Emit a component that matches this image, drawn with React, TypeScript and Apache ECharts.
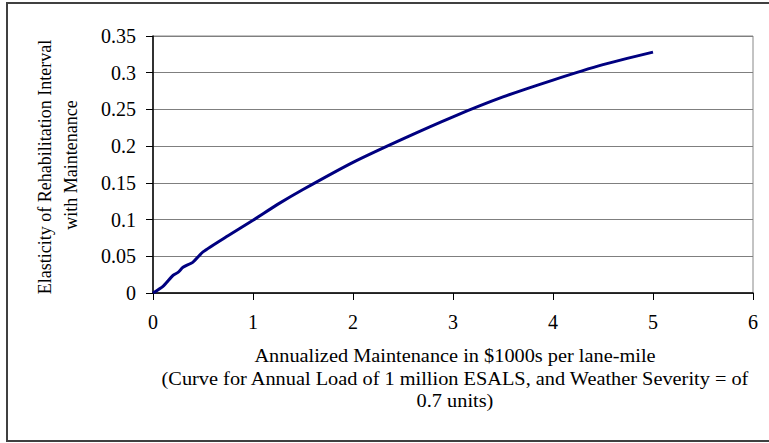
import React, { useEffect, useRef } from "react";
import * as echarts from "echarts";

const maintenance = [0, 0.1, 0.2, 0.25, 0.3, 0.4, 0.5, 0.75, 1, 1.25, 1.5, 2, 2.5, 3, 3.5, 4, 4.5, 5];
const elasticity = [0, 0.009, 0.024, 0.028, 0.035, 0.042, 0.056, 0.078, 0.099, 0.121, 0.141, 0.178, 0.21, 0.24, 0.267, 0.29, 0.311, 0.328];
const yAxisTitle = ["Elasticity of Rehabilitation Interval", "with Maintenance"];
const xAxisTitle = [
  "Annualized Maintenance in $1000s per lane-mile",
  "(Curve for Annual Load of 1 million ESALS, and Weather Severity = of",
  "0.7 units)",
];

const FONT = "'Liberation Serif', 'Times New Roman', serif";

export default function App() {
  const ref = useRef<HTMLDivElement>(null);
  useEffect(() => {
    if (!ref.current) return;
    const chart = echarts.init(ref.current, undefined, { renderer: "svg" });
    const data = maintenance.map((x, i) => [x, elasticity[i]]);
    chart.setOption({
      animation: false,
      backgroundColor: "#ffffff",
      grid: { left: 153, right: 16, top: 36, bottom: 150, show: true, borderColor: "#888888", borderWidth: 1, backgroundColor: "transparent" },
      xAxis: {
        type: "value",
        min: 0,
        max: 6,
        interval: 1,
        axisLine: { show: true, lineStyle: { color: "#000000", width: 1.5 } },
        axisTick: { show: true, length: 7, inside: false, lineStyle: { color: "#000000" } },
        axisLabel: { margin: 19, fontFamily: FONT, fontSize: 20, color: "#000000" },
        splitLine: { show: false },
      },
      yAxis: {
        type: "value",
        min: 0,
        max: 0.35,
        interval: 0.05,
        axisLine: { show: true, lineStyle: { color: "#000000", width: 1.5 } },
        axisTick: { show: true, length: 7, inside: false, lineStyle: { color: "#000000" } },
        axisLabel: { margin: 17, fontFamily: FONT, fontSize: 20, color: "#000000" },
        splitLine: { show: true, lineStyle: { color: "#7f7f7f", width: 1.2 } },
      },
      series: [
        {
          type: "line",
          data,
          showSymbol: false,
          smooth: 0.2,
          lineStyle: { color: "#000080", width: 3 },
        },
      ],
      graphic: [
        {
          type: "rect",
          shape: { x: 7, y: 3, width: 775, height: 438 },
          style: { fill: "none", stroke: "#404040", lineWidth: 2 },
          z: 100,
        },
        {
          type: "text",
          x: 45,
          y: 167,
          rotation: Math.PI / 2,
          style: { text: yAxisTitle[0], font: `18px ${FONT}`, fill: "#000000", align: "center", verticalAlign: "middle" },
        },
        {
          type: "text",
          x: 71,
          y: 165,
          rotation: Math.PI / 2,
          style: { text: yAxisTitle[1], font: `18px ${FONT}`, fill: "#000000", align: "center", verticalAlign: "middle" },
        },
        ...xAxisTitle.map((t, i) => ({
          type: "text",
          x: 455,
          y: 356 + i * 22.5,
          scaleX: 1.13,
          style: { text: t, font: `18px ${FONT}`, fill: "#000000", align: "center", verticalAlign: "middle" },
        })),
      ],
    });
    return () => chart.dispose();
  }, []);
  return <div ref={ref} style={{ position: "fixed", left: 0, top: 0, width: 769, height: 443 }} />;
}
